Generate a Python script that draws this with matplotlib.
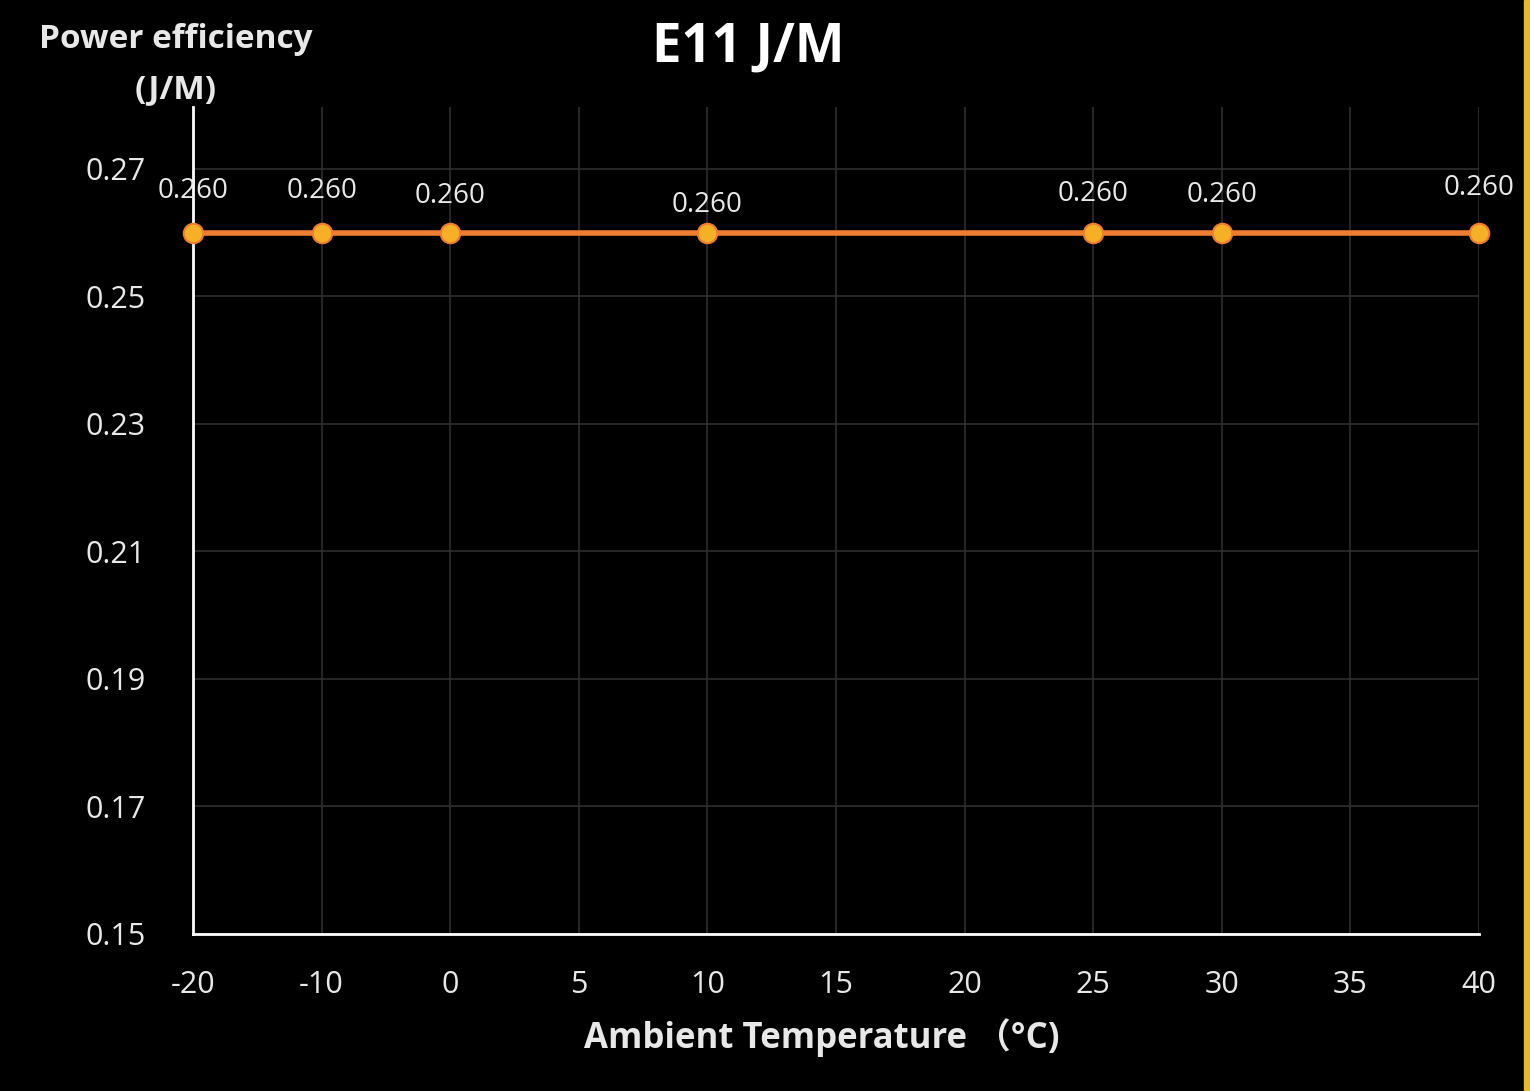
import matplotlib.pyplot as plt
from matplotlib.patches import Rectangle

categories = ['-20', '-10', '0', '5', '10', '15', '20', '25', '30', '35', '40']
point_temps = ['-20', '-10', '0', '10', '25', '30', '40']
point_values = [0.260, 0.260, 0.260, 0.260, 0.260, 0.260, 0.260]
label_offsets = [14, 14, 10, 4, 12, 11, 16]  # px above the point, as in the reference
y_ticks = [0.15, 0.17, 0.19, 0.21, 0.23, 0.25, 0.27]

plt.rcParams['font.family'] = ['Open Sans', 'Noto Sans CJK SC', 'DejaVu Sans']
fig = plt.figure(figsize=(15.3, 10.91), dpi=100, facecolor='black')
ax = fig.add_axes([193/1530, 1 - 934/1091, (1479-193)/1530, (934-107)/1091])
ax.set_facecolor('black')

xs = [categories.index(t) for t in point_temps]
ax.plot(xs, point_values, color='#ed7d31', lw=4, marker='o', ms=14,
        mfc='#f5b027', mec='#ed7d31', mew=1.5, zorder=3, clip_on=False)
for x, v, off in zip(xs, point_values, label_offsets):
    ax.annotate(f'{v:.3f}', (x, v), xytext=(0, off + 6), textcoords='offset points',
                ha='center', va='bottom', color='#e8e8e8', fontsize=20)

ax.set_xlim(0, len(categories) - 1)
ax.set_ylim(0.15, 0.2797)
ax.set_xticks(range(len(categories)))
ax.set_xticklabels(categories)
ax.set_yticks(y_ticks)
ax.set_yticklabels([f'{t:.2f}' for t in y_ticks])
ax.tick_params(colors='#e8e8e8', labelsize=22, length=0)
ax.tick_params(axis='x', pad=26)
ax.tick_params(axis='y', pad=34)
ax.grid(True, color='#2e2e2e', lw=1.2)
for s in ['top', 'right']:
    ax.spines[s].set_visible(False)
for s in ['left', 'bottom']:
    ax.spines[s].set_color('white')
    ax.spines[s].set_linewidth(2)

fig.text(748/1530, 1 - 48/1091, 'E11 J/M', color='white', fontsize=38,
         fontweight='bold', ha='center', va='center')
fig.text(176/1530, 1 - 40/1091, 'Power efficiency', color='#e8e8e8', fontsize=24,
         fontweight='bold', ha='center', va='center')
fig.text(176/1530, 1 - 90/1091, '(J/M)', color='#e8e8e8', fontsize=24,
         fontweight='bold', ha='center', va='center')
fig.text(822/1530, 1 - 1038/1091, 'Ambient Temperature （°C)', color='#e8e8e8',
         fontsize=25, fontweight='bold', ha='center', va='center')
fig.patches.append(Rectangle((1524/1530, 0), 6/1530, 1, transform=fig.transFigure,
                             color='#e8b830', zorder=5))

fig.savefig('out.png', dpi=100, facecolor='black')
